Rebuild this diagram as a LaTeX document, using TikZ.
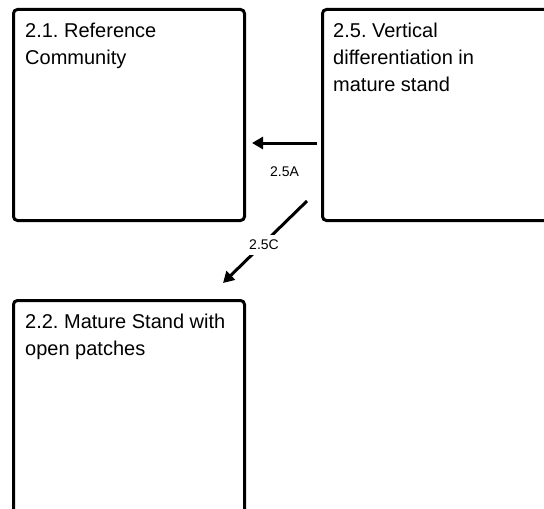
\documentclass[tikz,border=0pt]{standalone}
\usepackage{fontspec}
\setmainfont{Liberation Sans}
\usepackage{tikz}
\usetikzlibrary{arrows.meta}
\frenchspacing
\tikzset{
    statebox/.style={draw=black,line width=3bp,rounded corners=4bp,rectangle,inner sep=0pt,minimum width=231bp,minimum height=211bp},
    boxtext/.style={anchor=north west,inner sep=0pt,align=left,font=\fontsize{20bp}{27.3bp}\selectfont},
    flow/.style={-{Triangle[length=11bp,width=12bp]},line width=3bp},
    flowlabel/.style={font=\fontsize{14bp}{15bp}\selectfont,inner sep=1pt}
}
\begin{document}
\begin{tikzpicture}[x=1bp,y=-1bp]
\useasboundingbox (0,0) rectangle (544,509);
\clip (0,0) rectangle (544,509);

% state boxes
\node[statebox,anchor=north west] (ref) at (12,8) {};
\node[statebox,anchor=north west] (vert) at (321,8) {};
\node[statebox,anchor=north west,minimum height=230bp] (open) at (12,299) {};

\node[boxtext] (reftxt) at ([xshift=13bp,yshift=-14.5bp]ref.north west) {2.1. Reference\\Community};
\node[boxtext] (verttxt) at ([xshift=12bp,yshift=-14.5bp]vert.north west) {2.5. Vertical\\differentiation in\\mature stand};
\node[boxtext] (opentxt) at ([xshift=13bp,yshift=-14.5bp]open.north west) {2.2. Mature Stand with\\open patches};

% transitions
\draw[flow] ([xshift=-4bp,yshift=-135bp]vert.north west) -- ([xshift=6bp,yshift=-135bp]ref.north east)
    node[flowlabel,midway,yshift=-29bp] (lblA) {2.5A};
\draw[flow] ([xshift=-14bp,yshift=21bp]vert.south west) -- ([xshift=-23bp,yshift=16bp]open.north east)
    node[flowlabel,midway,fill=white,inner xsep=2pt,inner ysep=5pt,xshift=-1bp,yshift=-3bp] (lblC) {2.5C};

\end{tikzpicture}
\end{document}
